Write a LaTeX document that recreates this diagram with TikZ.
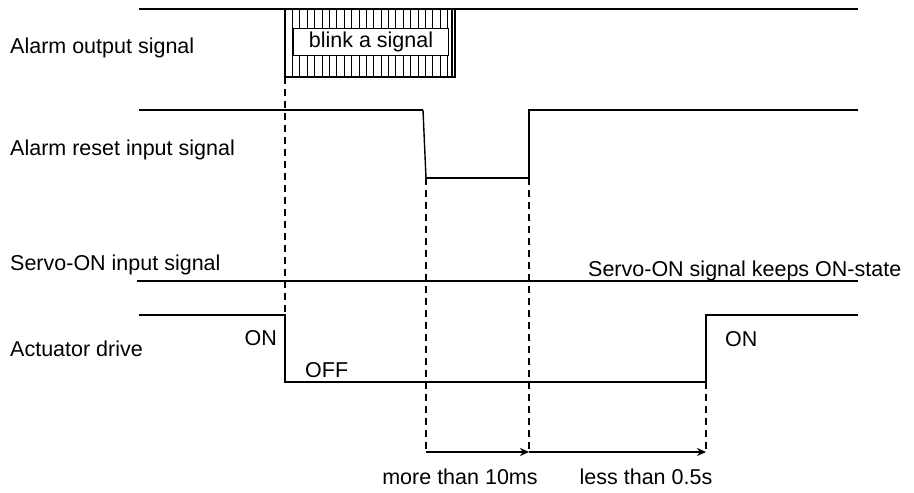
\documentclass[tikz,border=0pt]{standalone}
\usepackage{fontspec}
\setmainfont{Liberation Sans}
\usepackage{tikz}
\usetikzlibrary{arrows.meta,positioning,calc}

\begin{document}
\begin{tikzpicture}[x=1pt, y=-1pt, >={Stealth[length=9pt,width=8pt]},
  font=\fontsize{21.5}{25}\selectfont,
  sig/.style={line width=2.4pt},
  guide/.style={line width=1.6pt, dash pattern=on 7pt off 5pt},
  span/.style={->, line width=2.2pt}]
\useasboundingbox (0,0) rectangle (914,493);
% Row labels (left column)
\node[anchor=base west, inner sep=0pt] (lbalarm) at (10,53) {Alarm output signal};
\node[anchor=base west, inner sep=0pt] (lbreset) at (10,155) {Alarm reset input signal};
\node[anchor=base west, inner sep=0pt] (lbservo) at (10,270) {Servo-ON input signal};
\node[anchor=base west, inner sep=0pt] (lbdrive) at (10,356) {Actuator drive};
% Row 1: Alarm output signal with blinking block
\foreach \i in {0,...,23}
  \draw[line width=0.8pt] (285+\i*7.39,9) -- (285+\i*7.39,77);
\draw[line width=1.2pt] (285,9) -- (285,77) -- (455,77) -- (455,9);
\draw[line width=1.4pt] (452,9) -- (452,77);
\node[draw, line width=1pt, fill=white, anchor=north west, minimum width=155pt, minimum height=27pt,
      inner sep=0pt] (blink) at (293,28) {blink a signal};
\draw[sig] (139,9) -- (858,9);
% Row 2: Alarm reset input signal
\coordinate (rfall) at (426,178);
\coordinate (rrise) at (529,178);
\draw[sig] (139,110) -- (423,110);
\draw[line width=1.4pt] (423,110) -- (rfall);
\draw[sig] (rfall) -- (rrise) -- (529,110) -- (858,110);
% Row 3: Servo-ON input signal
\draw[line width=1.8pt] (137,281) -- (858,281);
\node[anchor=base west, inner sep=0pt] (keep) at (588,276) {Servo-ON signal keeps ON-state};
% Row 4: Actuator drive
\coordinate (doff) at (285,315);
\coordinate (don) at (706,382);
\draw[sig] (139,315) -- (doff) -- (285,382) -- (don) -- (706,315) -- (858,315);
\node[anchor=base east, inner sep=0pt] (on1) at (277,345) {ON};
\node[anchor=base west, inner sep=0pt] (off) at (305,377) {OFF};
\node[anchor=base west, inner sep=0pt] (on2) at (725,346) {ON};
% Timing guides
\coordinate (blk) at (285,77);
\coordinate (m1) at (426,452);
\coordinate (m2) at (529,452);
\coordinate (m3) at (706,452);
\draw[guide] (blk) -- (doff);
\draw[guide] (rfall) -- (m1);
\draw[guide] (rrise) -- (m2);
\draw[guide] (don) -- (m3);
\draw[span] (m1) -- (m2);
\draw[span] (m2) -- (m3);
\node[anchor=base, inner sep=0pt] (t10ms) at (460,484) {more than 10ms};
\node[anchor=base, inner sep=0pt] (t05s) at (646,484) {less than 0.5s};
\end{tikzpicture}
\end{document}
